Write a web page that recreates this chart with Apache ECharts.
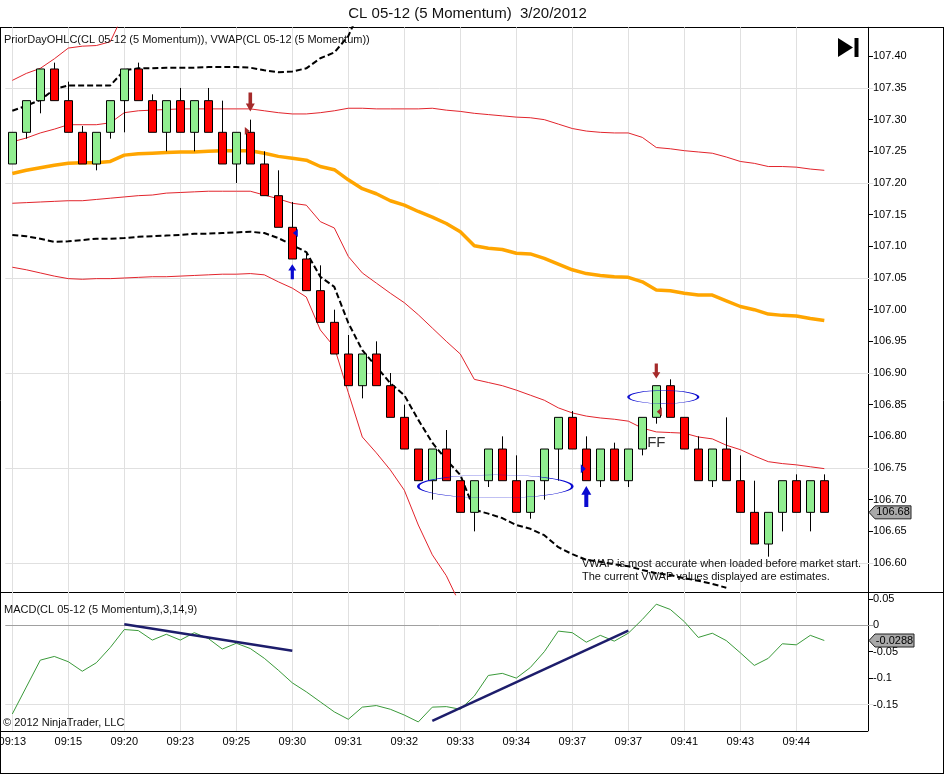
<!DOCTYPE html>
<html>
<head>
<meta charset="utf-8">
<title>CL 05-12 (5 Momentum) 3/20/2012</title>
<script src="https://cdn.jsdelivr.net/npm/echarts@6/dist/echarts.min.js"></script>
<style>
  html, body { margin: 0; padding: 0; background: #fff; }
  #chart { width: 944px; height: 775px; }
</style>
</head>
<body>
<div id="chart"></div>
<script>
// time labels, one every 4 bars
const tickLabels = ['09:13', '09:15', '09:20', '09:23', '09:25', '09:30', '09:31', '09:32',
  '09:33', '09:34', '09:37', '09:37', '09:41', '09:43', '09:44']

// 5 momentum bars
const opens = [
  107.23, 107.28, 107.33, 107.38, 107.33, 107.28, 107.23, 107.28, 107.33, 107.38,
  107.33, 107.28, 107.33, 107.28, 107.33, 107.28, 107.23, 107.28, 107.23, 107.18,
  107.13, 107.08, 107.03, 106.98, 106.93, 106.88, 106.93, 106.88, 106.83, 106.78,
  106.73, 106.78, 106.73, 106.68, 106.73, 106.78, 106.73, 106.68, 106.73, 106.78,
  106.83, 106.78, 106.73, 106.78, 106.73, 106.78, 106.83, 106.88, 106.83, 106.78,
  106.73, 106.78, 106.73, 106.68, 106.63, 106.68, 106.73, 106.68, 106.73]
const closes = [
  107.28, 107.33, 107.38, 107.33, 107.28, 107.23, 107.28, 107.33, 107.38, 107.33,
  107.28, 107.33, 107.28, 107.33, 107.28, 107.23, 107.28, 107.23, 107.18, 107.13,
  107.08, 107.03, 106.98, 106.93, 106.88, 106.93, 106.88, 106.83, 106.78, 106.73,
  106.78, 106.73, 106.68, 106.73, 106.78, 106.73, 106.68, 106.73, 106.78, 106.83,
  106.78, 106.73, 106.78, 106.73, 106.78, 106.83, 106.88, 106.83, 106.78, 106.73,
  106.78, 106.73, 106.68, 106.63, 106.68, 106.73, 106.68, 106.73, 106.68]
const lows = [
  107.23, 107.27, 107.31, 107.33, 107.28, 107.23, 107.22, 107.27, 107.28, 107.33,
  107.28, 107.25, 107.28, 107.25, 107.28, 107.23, 107.20, 107.23, 107.18, 107.13,
  107.08, 107.03, 106.98, 106.93, 106.88, 106.86, 106.88, 106.83, 106.78, 106.73,
  106.70, 106.73, 106.68, 106.65, 106.72, 106.73, 106.68, 106.67, 106.70, 106.73,
  106.78, 106.73, 106.72, 106.73, 106.72, 106.77, 106.82, 106.83, 106.78, 106.73,
  106.72, 106.73, 106.68, 106.63, 106.61, 106.65, 106.68, 106.65, 106.68]
const highs = [
  107.28, 107.33, 107.38, 107.39, 107.36, 107.29, 107.28, 107.33, 107.38, 107.39,
  107.34, 107.33, 107.35, 107.33, 107.35, 107.33, 107.28, 107.30, 107.25, 107.22,
  107.17, 107.09, 107.07, 107.00, 106.96, 106.93, 106.95, 106.90, 106.85, 106.78,
  106.78, 106.81, 106.73, 106.73, 106.78, 106.80, 106.77, 106.73, 106.78, 106.83,
  106.84, 106.80, 106.78, 106.79, 106.78, 106.83, 106.88, 106.89, 106.83, 106.80,
  106.78, 106.83, 106.77, 106.73, 106.68, 106.73, 106.74, 106.73, 106.74]

// VWAP and bands
const vwap = [
  107.215, 107.220, 107.224, 107.228, 107.231, 107.232, 107.232, 107.234, 107.244, 107.246,
  107.247, 107.248, 107.249, 107.249, 107.250, 107.251, 107.251, 107.251, 107.247, 107.242,
  107.239, 107.236, 107.226, 107.221, 107.205, 107.191, 107.183, 107.172, 107.165, 107.155,
  107.146, 107.136, 107.123, 107.101, 107.097, 107.095, 107.089, 107.088, 107.081, 107.072,
  107.063, 107.057, 107.054, 107.052, 107.051, 107.044, 107.031, 107.030, 107.026, 107.023,
  107.023, 107.014, 107.005, 107.000, 106.993, 106.991, 106.990, 106.986, 106.983]
const upperBand2 = [107.362, 107.373, 107.381, 107.396, 107.413, 107.416, 107.417, 107.423, 107.470]
const upperDash = [
  107.314, 107.322, 107.331, 107.348, 107.354, 107.354, 107.354, 107.354, 107.378, 107.381,
  107.381, 107.382, 107.382, 107.382, 107.383, 107.383, 107.383, 107.382, 107.378, 107.375,
  107.376, 107.381, 107.397, 107.406, 107.432, 107.481]
const upperBand1 = [
  107.265, 107.271, 107.279, 107.285, 107.292, 107.292, 107.292, 107.295, 107.311, 107.314,
  107.315, 107.316, 107.317, 107.317, 107.317, 107.317, 107.317, 107.317, 107.314, 107.311,
  107.309, 107.309, 107.311, 107.314, 107.318, 107.318, 107.317, 107.317, 107.317, 107.317,
  107.318, 107.315, 107.313, 107.310, 107.308, 107.306, 107.304, 107.303, 107.300, 107.293,
  107.286, 107.282, 107.280, 107.279, 107.279, 107.272, 107.256, 107.254, 107.251, 107.249,
  107.247, 107.241, 107.234, 107.231, 107.226, 107.226, 107.225, 107.222, 107.220]
const lowerBand1 = [
  107.168, 107.169, 107.170, 107.171, 107.172, 107.172, 107.174, 107.176, 107.178, 107.180,
  107.181, 107.184, 107.185, 107.186, 107.187, 107.187, 107.187, 107.187, 107.181, 107.175,
  107.168, 107.165, 107.139, 107.129, 107.084, 107.058, 107.042, 107.026, 107.011, 106.992,
  106.971, 106.950, 106.930, 106.890, 106.885, 106.880, 106.873, 106.865, 106.857, 106.845,
  106.837, 106.832, 106.829, 106.827, 106.824, 106.813, 106.807, 106.806, 106.805, 106.799,
  106.796, 106.786, 106.779, 106.769, 106.760, 106.757, 106.755, 106.752, 106.749]
const lowerDash = [
  107.118, 107.116, 107.112, 107.107, 107.108, 107.110, 107.112, 107.112, 107.113, 107.115,
  107.116, 107.117, 107.118, 107.120, 107.120, 107.121, 107.122, 107.123, 107.121, 107.113,
  107.102, 107.091, 107.052, 107.036, 106.979, 106.936, 106.910, 106.884, 106.865, 106.826,
  106.790, 106.763, 106.739, 106.684, 106.678, 106.671, 106.660, 106.654, 106.644, 106.625,
  106.614, 106.605, 106.602, 106.598, 106.595, 106.589, 106.584, 106.581, 106.576, 106.572,
  106.567, 106.561]
const lowerBand2 = [
  107.067, 107.063, 107.058, 107.053, 107.049, 107.048, 107.049, 107.049, 107.050, 107.051,
  107.052, 107.052, 107.053, 107.054, 107.055, 107.056, 107.056, 107.057, 107.055, 107.044,
  107.034, 107.020, 106.968, 106.941, 106.869, 106.799, 106.774, 106.747, 106.715, 106.660,
  106.613, 106.580, 106.534]

// MACD(3,14,9)
const macd = [
  -0.168, -0.117, -0.066, -0.059, -0.069, -0.087, -0.071, -0.042, -0.008, -0.010,
  -0.028, -0.017, -0.028, -0.014, -0.025, -0.045, -0.034, -0.044, -0.0625, -0.085,
  -0.109, -0.126, -0.145, -0.164, -0.178, -0.155, -0.152, -0.159, -0.170, -0.183,
  -0.155, -0.154, -0.159, -0.134, -0.095, -0.091, -0.100, -0.080, -0.050, -0.011,
  -0.014, -0.032, -0.019, -0.030, -0.015, 0.011, 0.040, 0.030, 0.007, -0.023,
  -0.015, -0.029, -0.052, -0.076, -0.0625, -0.035, -0.037, -0.019, -0.0288]
// hand drawn divergence lines on the MACD [bar, value]
const macdTrendLines = [
  [[8, 0.002], [20, -0.048]],
  [[30, -0.181], [44, -0.010]]
]

// chart markers [bar, price]
const sellArrows = [[17, 107.328], [46, 106.903]]
const buyArrows = [[20, 107.060], [41, 106.705]]
const circledZones = [[34, 106.721], [46, 106.862]]

const priceGridLevels = [107.35, 107.20, 107.05, 106.90, 106.75, 106.60]
const macdGridLevels = [-0.15]

const FONT = '"Liberation Sans", Arial, sans-serif'
const GRID_LINE = '#e0e0e0'
const SELL = '#a52a2a'
const BLUE = '#0a0ad0'
const ARROW_DOWN = 'path://M3,0L7,0L7,11L10,11L5,19L0,11L3,11Z'
const ARROW_UP = 'path://M3,19L7,19L7,8L10,8L5,0L0,8L3,8Z'
const TRI_RIGHT = 'path://M0,0L10,5L0,10Z'
const TRI_LEFT = 'path://M10,0L0,5L10,10Z'
const ELLIPSE = 'path://M0,50A50,50,0,1,1,100,50A50,50,0,1,1,0,50Z'

const padBars = 3
const categories = Array.from({ length: opens.length + padBars }, (_, i) => String(i))
const candles = opens.map((o, i) => [o, closes[i], lows[i], highs[i]])
const labelBars = tickLabels.map((_, i) => i * 4)
const showTick = (i) => i % 4 === 0 && i / 4 < tickLabels.length

const gridLineStyle = { color: GRID_LINE, width: 1, type: 'solid' }

function bandLine (data, color, width, type) {
  return {
    type: 'line', xAxisIndex: 0, yAxisIndex: 0, data, symbol: 'none', showSymbol: false,
    clip: true, z: 3, silent: true, lineStyle: { color, width, type }
  }
}

function marker (pos, symbol, size, style, offset) {
  return { coord: pos, symbol, symbolSize: size, symbolOffset: offset || [0, 0], itemStyle: style }
}

const chart = echarts.init(document.getElementById('chart'))
chart.setOption({
  animation: false,
  backgroundColor: '#fff',
  grid: [
    { left: 5.3, top: 27.3, width: 868, height: 567.4, containLabel: false, outerBoundsMode: 'none' },
    { left: 5.3, top: 592.3, width: 868, height: 138.6, containLabel: false, outerBoundsMode: 'none' }
  ],
  xAxis: [
    {
      type: 'category', gridIndex: 0, data: categories, boundaryGap: true,
      axisLine: { show: false }, axisTick: { show: false }, axisLabel: { show: false }, splitLine: { show: false }
    },
    {
      type: 'category', gridIndex: 1, data: categories, boundaryGap: true,
      axisLine: { show: false },
      axisTick: { show: true, alignWithLabel: true, interval: showTick, length: 4, lineStyle: { color: '#000' } },
      axisLabel: {
        interval: showTick, color: '#000', fontSize: 11, fontFamily: FONT, margin: 6,
        formatter: (v, i) => tickLabels[i / 4] || ''
      },
      splitLine: { show: false }
    }
  ],
  yAxis: [
    {
      type: 'value', gridIndex: 0, position: 'right', offset: -5.3, scale: true,
      min: 106.55, max: 107.4458, interval: 0.05,
      axisLine: { show: true, lineStyle: { color: '#000' } },
      axisTick: { show: true, length: 5, lineStyle: { color: '#000' } },
      axisLabel: {
        color: '#000', fontSize: 11, fontFamily: FONT, margin: 5,
        showMinLabel: false, showMaxLabel: false, formatter: v => v.toFixed(2)
      },
      splitLine: { show: false }
    },
    {
      type: 'value', gridIndex: 1, position: 'right', offset: -5.3, scale: true,
      min: -0.2, max: 0.0625, interval: 0.05,
      axisLine: { show: true, lineStyle: { color: '#000' } },
      axisTick: { show: true, length: 5, lineStyle: { color: '#000' } },
      axisLabel: {
        color: '#000', fontSize: 11, fontFamily: FONT, margin: 5,
        showMinLabel: false, showMaxLabel: false, formatter: v => String(parseFloat(v.toFixed(2)))
      },
      splitLine: { show: false }
    }
  ],
  series: [
    // grid lines of the price panel, kept under the bars
    {
      type: 'line', xAxisIndex: 0, yAxisIndex: 0, data: [], z: 1, silent: true,
      markLine: {
        z: 1, silent: true, animation: false, symbol: ['none', 'none'], label: { show: false },
        lineStyle: gridLineStyle,
        data: priceGridLevels.map(v => ({ yAxis: v })).concat(labelBars.map(i => ({ xAxis: i })))
      }
    },
    // grid lines of the MACD panel
    {
      type: 'line', xAxisIndex: 1, yAxisIndex: 1, data: [], z: 1, silent: true,
      markLine: {
        z: 1, silent: true, animation: false, symbol: ['none', 'none'], label: { show: false },
        lineStyle: gridLineStyle,
        data: macdGridLevels.map(v => ({ yAxis: v })).concat(labelBars.map(i => ({ xAxis: i })))
          .concat([{ yAxis: 0, lineStyle: { color: '#a0a0a0', width: 1 } }])
      }
    },
    bandLine(vwap, '#ffa500', 3.5, 'solid'),
    bandLine(upperBand2, '#e2242c', 1, 'solid'),
    bandLine(upperBand1, '#e2242c', 1, 'solid'),
    bandLine(lowerBand1, '#e2242c', 1, 'solid'),
    bandLine(lowerBand2, '#e2242c', 1, 'solid'),
    bandLine(upperDash, '#000', 2, [6, 3]),
    bandLine(lowerDash, '#000', 2, [6, 3]),
    {
      name: 'CL 05-12', type: 'candlestick', xAxisIndex: 0, yAxisIndex: 0, data: candles,
      barWidth: 8, z: 4, silent: true,
      itemStyle: { color: '#90ee90', color0: '#ff0000', borderColor: '#000', borderColor0: '#000', borderWidth: 1 },
      markPoint: {
        z: 6, silent: true, animation: false, label: { show: false },
        data: [
          marker(sellArrows[0], ARROW_DOWN, [9, 19], { color: SELL }),
          marker(sellArrows[1], ARROW_DOWN, [8, 15], { color: SELL }),
          marker(buyArrows[0], ARROW_UP, [8, 15], { color: BLUE }),
          marker(buyArrows[1], ARROW_UP, [10, 21], { color: BLUE }),
          marker([17, 107.282], TRI_RIGHT, [5, 8], { color: SELL }, [-3, 0]),
          marker([20, 107.121], TRI_LEFT, [5, 8], { color: BLUE }, [3, 0]),
          marker([41, 106.749], TRI_RIGHT, [5, 9], { color: BLUE }, [-3, 0]),
          marker([46, 106.839], TRI_LEFT, [5, 9], { color: SELL }, [3, 0]),
          marker(circledZones[0], ELLIPSE, [154, 23], { color: 'none', borderColor: BLUE, borderWidth: 1 }, [7, 0]),
          marker(circledZones[1], ELLIPSE, [70, 13], { color: 'none', borderColor: BLUE, borderWidth: 1 }, [7, 0]),
          {
            coord: [46, 106.790], symbol: 'rect', symbolSize: 1, itemStyle: { color: 'rgba(0,0,0,0)' },
            label: { show: true, position: 'inside', formatter: 'FF', fontSize: 15, fontFamily: FONT, color: '#333' }
          }
        ]
      }
    },
    {
      name: 'MACD', type: 'line', xAxisIndex: 1, yAxisIndex: 1, data: macd, symbol: 'none', showSymbol: false,
      z: 3, silent: true, lineStyle: { color: '#3a9a3a', width: 1 },
      markLine: {
        silent: true, animation: false, symbol: ['none', 'none'], label: { show: false },
        lineStyle: { color: '#1d1d6b', width: 2.5, type: 'solid' },
        data: macdTrendLines.map(l => [{ coord: l[0] }, { coord: l[1] }])
      }
    }
  ]
})

// frame, captions and the last value tags
const yPrice = chart.convertToPixel({ yAxisIndex: 0 }, closes[closes.length - 1])
const yMacd = chart.convertToPixel({ yAxisIndex: 1 }, macd[macd.length - 1])
const yMacdBottom = Math.round(chart.convertToPixel({ yAxisIndex: 1 }, -0.2)) + 0.5

function hline (y, x1, x2) {
  return { type: 'line', silent: true, shape: { x1, y1: y, x2, y2: y }, style: { stroke: '#000', lineWidth: 1 } }
}
function vline (x, y1, y2) {
  return { type: 'line', silent: true, shape: { x1: x, y1, x2: x, y2 }, style: { stroke: '#000', lineWidth: 1 } }
}
function caption (text, x, y, size, align) {
  return {
    type: 'text', silent: true, x, y, z: 10,
    style: {
      text, fill: '#111', fontSize: size, fontFamily: FONT,
      textAlign: align || 'left', align: align || 'left', textVerticalAlign: 'middle', verticalAlign: 'middle'
    }
  }
}
function valueTag (text, y, right) {
  return {
    type: 'group', silent: true, z: 10,
    children: [
      {
        type: 'polygon',
        shape: { points: [[869, y], [875, y - 6.5], [right, y - 6.5], [right, y + 6.5], [875, y + 6.5]] },
        style: { fill: '#a9a9a9', stroke: '#222', lineWidth: 1 }
      },
      {
        type: 'text', x: (875 + right) / 2, y,
        style: { text, fill: '#000', fontSize: 11, fontFamily: FONT, textAlign: 'center', align: 'center', textVerticalAlign: 'middle', verticalAlign: 'middle' }
      }
    ]
  }
}

chart.setOption({
  graphic: [
    hline(27.5, 0, 944),
    hline(592.5, 0, 944),
    hline(yMacdBottom, 0, 868),
    hline(773.5, 0, 944),
    vline(0.5, 27.5, 774),
    vline(943.5, 27.5, 774),
    caption('CL 05-12 (5 Momentum)  3/20/2012', 467.5, 13.5, 15, 'center'),
    caption('PriorDayOHLC(CL 05-12 (5 Momentum)), VWAP(CL 05-12 (5 Momentum))', 4, 40, 11),
    caption('VWAP is most accurate when loaded before market start.', 582, 564, 11),
    caption('The current VWAP values displayed are estimates.', 582, 576.5, 11),
    caption('MACD(CL 05-12 (5 Momentum),3,14,9)', 4, 610, 11),
    caption('\u00a9 2012 NinjaTrader, LLC', 3, 723, 11),
    {
      type: 'polygon', silent: true, z: 10,
      shape: { points: [[838, 38], [853, 47.5], [838, 57]] }, style: { fill: '#000' }
    },
    { type: 'rect', silent: true, z: 10, shape: { x: 854.5, y: 38, width: 4, height: 19 }, style: { fill: '#000' } },
    valueTag(closes[closes.length - 1].toFixed(2), yPrice, 911),
    valueTag(String(macd[macd.length - 1]), yMacd, 914)
  ]
})
</script>
</body>
</html>
